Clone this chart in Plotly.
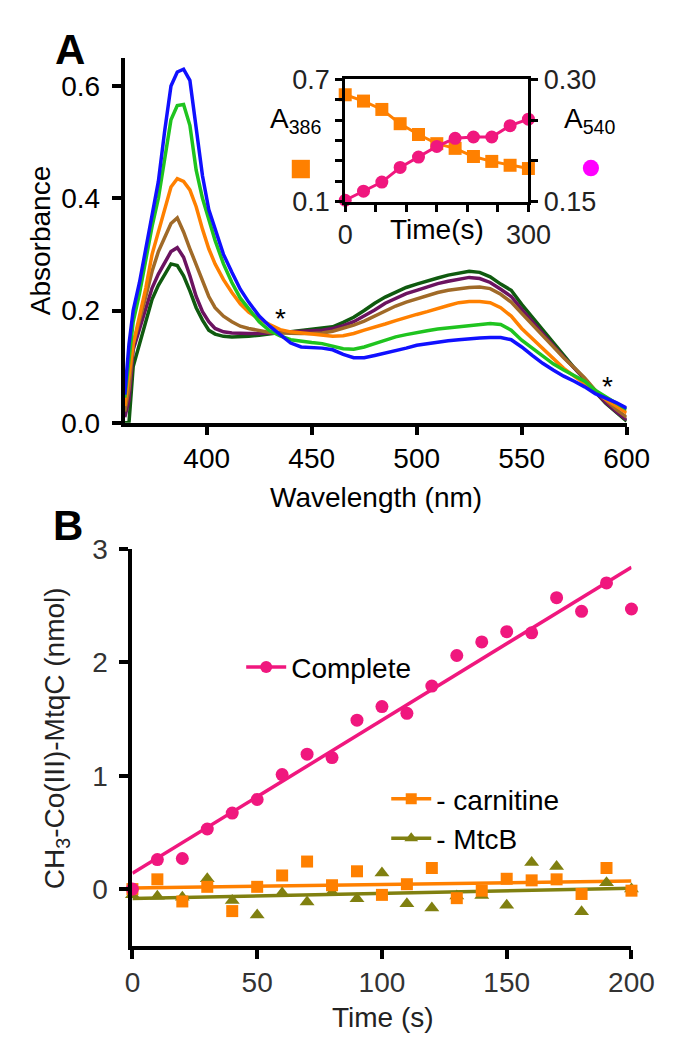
import numpy as np
import plotly.graph_objects as go

# ---------------- Panel A: spectra ----------------
wavelength = [361, 363, 365, 368, 371, 374, 377, 380, 383, 386, 389, 392, 395, 398, 401, 404, 408, 412, 416, 420,
              425, 430, 435, 440, 445, 450, 455, 460, 465, 470, 475, 480, 485, 490, 495, 500, 505, 510, 515, 520,
              525, 530, 535, 540, 545, 550, 555, 560, 565, 570, 575, 580, 585, 590, 595, 600]

abs_blue = [0.05, 0.14, 0.20, 0.25, 0.31, 0.37, 0.43, 0.52, 0.60, 0.625, 0.63, 0.61, 0.53, 0.44, 0.38, 0.345, 0.30, 0.268, 0.238, 0.215,
            0.19, 0.172, 0.156, 0.142, 0.135, 0.134, 0.133, 0.13, 0.122, 0.116, 0.116, 0.12, 0.124, 0.128, 0.133, 0.138, 0.141, 0.143, 0.146, 0.148,
            0.150, 0.151, 0.152, 0.152, 0.148, 0.135, 0.12, 0.106, 0.094, 0.083, 0.074, 0.064, 0.052, 0.044, 0.036, 0.026]
abs_green = [0.045, 0.12, 0.18, 0.23, 0.29, 0.35, 0.40, 0.47, 0.54, 0.565, 0.567, 0.53, 0.45, 0.40, 0.36, 0.325, 0.283, 0.25, 0.222, 0.203,
             0.18, 0.164, 0.155, 0.148, 0.145, 0.143, 0.141, 0.137, 0.132, 0.131, 0.135, 0.141, 0.147, 0.153, 0.157, 0.161, 0.164, 0.167, 0.169, 0.171,
             0.174, 0.176, 0.177, 0.175, 0.165, 0.147, 0.133, 0.118, 0.105, 0.094, 0.084, 0.074, 0.058, 0.046, 0.035, 0.024]
abs_orange = [0.03, 0.09, 0.14, 0.19, 0.24, 0.30, 0.34, 0.38, 0.42, 0.435, 0.43, 0.415, 0.385, 0.345, 0.31, 0.283, 0.255, 0.232, 0.212, 0.197,
              0.185, 0.175, 0.166, 0.162, 0.160, 0.158, 0.156, 0.154, 0.155, 0.159, 0.165, 0.170, 0.176, 0.182, 0.188, 0.193, 0.198, 0.204, 0.209, 0.214,
              0.216, 0.216, 0.214, 0.205, 0.190, 0.168, 0.150, 0.132, 0.114, 0.097, 0.083, 0.070, 0.056, 0.042, 0.030, 0.018]
abs_brown = [0.02, 0.06, 0.14, 0.18, 0.225, 0.27, 0.305, 0.33, 0.355, 0.365, 0.34, 0.31, 0.282, 0.25, 0.225, 0.205, 0.19, 0.18, 0.172, 0.168,
             0.164, 0.161, 0.160, 0.159, 0.159, 0.159, 0.160, 0.163, 0.168, 0.174, 0.181, 0.190, 0.199, 0.208, 0.215, 0.221, 0.227, 0.232, 0.236, 0.239,
             0.241, 0.242, 0.239, 0.229, 0.215, 0.195, 0.175, 0.155, 0.136, 0.116, 0.098, 0.080, 0.058, 0.040, 0.024, 0.010]
abs_purple = [0.01, 0.04, 0.13, 0.165, 0.205, 0.24, 0.265, 0.285, 0.305, 0.312, 0.295, 0.262, 0.225, 0.198, 0.18, 0.168, 0.162, 0.16, 0.159, 0.159,
              0.159, 0.160, 0.161, 0.162, 0.163, 0.164, 0.165, 0.168, 0.173, 0.180, 0.190, 0.201, 0.213, 0.222, 0.230, 0.236, 0.242, 0.248, 0.252, 0.256,
              0.259, 0.257, 0.250, 0.238, 0.225, 0.202, 0.180, 0.158, 0.138, 0.117, 0.097, 0.078, 0.055, 0.036, 0.020, 0.005]
abs_darkgreen = [0.0, 0.0, 0.10, 0.14, 0.185, 0.22, 0.245, 0.265, 0.283, 0.28, 0.262, 0.235, 0.205, 0.183, 0.165, 0.158, 0.154, 0.153, 0.153, 0.154,
                 0.156, 0.159, 0.161, 0.162, 0.164, 0.166, 0.168, 0.171, 0.179, 0.188, 0.200, 0.213, 0.224, 0.233, 0.241, 0.247, 0.253, 0.258, 0.263, 0.267,
                 0.270, 0.268, 0.260, 0.247, 0.236, 0.211, 0.188, 0.165, 0.142, 0.120, 0.098, 0.078, 0.055, 0.035, 0.018, 0.003]

spectra_colors = ["#0f5a0f", "#6b1360", "#a06a28", "#ff8000", "#1fc41f", "#1010ff"]

# ---------------- Inset ----------------
inset_time = [0, 30, 60, 90, 120, 150, 180, 210, 240, 270, 300]
a386 = [0.624, 0.593, 0.552, 0.482, 0.429, 0.384, 0.361, 0.321, 0.297, 0.278, 0.262]
a540 = [0.1516, 0.1627, 0.1739, 0.1918, 0.2045, 0.2176, 0.2276, 0.2292, 0.2292, 0.2431, 0.2511]

# ---------------- Panel B ----------------
time_b = [0, 10, 20, 30, 40, 50, 60, 70, 80, 90, 100, 110, 120, 130, 140, 150, 160, 170, 180, 190, 200]
complete = [0.0, 0.26, 0.27, 0.53, 0.67, 0.79, 1.01, 1.19, 1.16, 1.49, 1.61, 1.55, 1.79, 2.06, 2.18, 2.27, 2.26, 2.57, 2.45, 2.70, 2.47]
minus_carnitine = [0.0, 0.086, -0.109, 0.02, -0.194, 0.02, 0.12, 0.243, 0.034, 0.157, -0.051, 0.043, 0.186, -0.08, -0.014, 0.091, 0.077, 0.086, -0.043, 0.186, -0.014]
minus_mtcb = [-0.05, -0.063, -0.071, 0.091, -0.10, -0.229, -0.034, -0.114, -0.03, -0.086, 0.143, -0.129, -0.166, -0.06, -0.057, -0.143, 0.234, 0.20, -0.20, 0.057, 0.0]

PINK = "#f0177e"
ORANGE = "#ff8000"
OLIVE = "#808010"
FONT = "Liberation Sans"

W, H = 677, 1045
def px(x):
    return x / W
def py(y):
    return 1 - y / H

fig = go.Figure()

# spectra
for vals, col in zip([abs_darkgreen, abs_purple, abs_brown, abs_orange, abs_green, abs_blue], spectra_colors):
    fig.add_trace(go.Scatter(x=wavelength, y=vals, mode="lines", line=dict(color=col, width=3.5),
                             showlegend=False, xaxis="x", yaxis="y"))

# inset
fig.add_trace(go.Scatter(x=inset_time, y=a386, mode="lines+markers", line=dict(color=ORANGE, width=3),
                         marker=dict(symbol="square", size=13, color=ORANGE), cliponaxis=False,
                         showlegend=False, xaxis="x2", yaxis="y2"))
fig.add_trace(go.Scatter(x=inset_time, y=a540, mode="lines+markers", line=dict(color=PINK, width=3),
                         marker=dict(symbol="circle", size=13, color=PINK), cliponaxis=False,
                         showlegend=False, xaxis="x2", yaxis="y3"))

# panel B fits
tb = np.array(time_b, dtype=float)
tfit = np.array([0.0, 200.0])
for vals, col in [(minus_mtcb, OLIVE), (minus_carnitine, ORANGE), (complete, PINK)]:
    k, b = np.polyfit(tb, np.array(vals), 1)
    fig.add_trace(go.Scatter(x=tfit, y=k * tfit + b, mode="lines", line=dict(color=col, width=3.5),
                             showlegend=False, xaxis="x3", yaxis="y4"))

fig.add_trace(go.Scatter(x=time_b, y=minus_mtcb, mode="markers", marker=dict(symbol="triangle-up", size=13, color=OLIVE),
                         cliponaxis=False, showlegend=False, xaxis="x3", yaxis="y4"))
fig.add_trace(go.Scatter(x=time_b, y=minus_carnitine, mode="markers", marker=dict(symbol="square", size=12, color=ORANGE),
                         cliponaxis=False, showlegend=False, xaxis="x3", yaxis="y4"))
fig.add_trace(go.Scatter(x=time_b, y=complete, mode="markers", marker=dict(symbol="circle", size=13, color=PINK),
                         cliponaxis=False, showlegend=False, xaxis="x3", yaxis="y4"))

# legend entries
fig.add_trace(go.Scatter(x=[None], y=[None], mode="lines+markers", name="Complete",
                         line=dict(color=PINK, width=3.5), marker=dict(symbol="circle", size=12, color=PINK),
                         xaxis="x3", yaxis="y4", legend="legend"))
fig.add_trace(go.Scatter(x=[None], y=[None], mode="lines+markers", name="- carnitine",
                         line=dict(color=ORANGE, width=3.5), marker=dict(symbol="square", size=11, color=ORANGE),
                         xaxis="x3", yaxis="y4", legend="legend2"))
fig.add_trace(go.Scatter(x=[None], y=[None], mode="lines+markers", name="- MtcB",
                         line=dict(color=OLIVE, width=3.5), marker=dict(symbol="triangle-up", size=12, color=OLIVE),
                         xaxis="x3", yaxis="y4", legend="legend2"))

axis_common = dict(showgrid=False, zeroline=False, showline=True, linecolor="black", ticks="outside", tickcolor="black")

fig.update_layout(
    width=W, height=H, margin=dict(l=0, r=0, t=0, b=0),
    paper_bgcolor="white", plot_bgcolor="white",
    font=dict(family=FONT, size=28, color="black"),
    xaxis=dict(**axis_common, domain=[px(114), px(640)], range=[361, 600], anchor="y",
               tickvals=[400, 450, 500, 550, 600], linewidth=4, tickwidth=4, ticklen=8,
               tickfont=dict(size=28, color="black")),
    yaxis=dict(**axis_common, domain=[py(412), py(36)], range=[0, 0.65], anchor="x",
               tickvals=[0, 0.2, 0.4, 0.6], tickformat=".1f", linewidth=4, tickwidth=4, ticklen=9,
               ticklabelstandoff=6, tickfont=dict(size=28, color="black")),
    xaxis2=dict(**axis_common, domain=[px(345), px(537)], range=[0, 300], anchor="y2", mirror=True,
                tickvals=[0, 300], linewidth=3, tickwidth=3, ticklen=7, tickfont=dict(size=27, color="#222"),
                minor=dict(tickvals=[50, 100, 150, 200, 250], ticks="outside", ticklen=7, tickwidth=3,
                           tickcolor="black", showgrid=False)),
    yaxis2=dict(**axis_common, domain=[py(184), py(58)], range=[0.1, 0.7], anchor="x2",
                tickvals=[0.1, 0.7], linewidth=3, tickwidth=3, ticklen=7, tickfont=dict(size=27, color="#222"),
                minor=dict(tickvals=[0.2, 0.3, 0.4, 0.5, 0.6], ticks="outside", ticklen=7, tickwidth=3,
                           tickcolor="black", showgrid=False)),
    yaxis3=dict(**axis_common, range=[0.15, 0.30], overlaying="y2", side="right", anchor="x2",
                tickvals=[0.15, 0.30], tickformat=".2f", linewidth=3, tickwidth=3, ticklen=7,
                tickfont=dict(size=27, color="#222"),
                minor=dict(tickvals=[0.20, 0.25], ticks="outside", ticklen=7, tickwidth=3,
                           tickcolor="black", showgrid=False)),
    xaxis3=dict(**axis_common, domain=[px(122), px(645)], range=[0, 200], anchor="y4",
                tickvals=[0, 50, 100, 150, 200], linewidth=4, tickwidth=4, ticklen=9,
                tickfont=dict(size=28, color="#333")),
    yaxis4=dict(**axis_common, domain=[py(951), py(542)], range=[-0.5, 3], anchor="x3",
                tickvals=[0, 1, 2, 3], linewidth=4, tickwidth=4, ticklen=9, ticklabelstandoff=6,
                tickfont=dict(size=28, color="#333")),
    legend=dict(x=px(236), y=py(664), xanchor="left", yanchor="middle", bgcolor="rgba(0,0,0,0)",
                font=dict(size=28, color="black"), itemwidth=40),
    legend2=dict(x=px(388), y=py(820), xanchor="left", yanchor="middle", bgcolor="rgba(0,0,0,0)",
                 font=dict(size=28, color="black"), itemwidth=40, tracegroupgap=0),
)

def ann(text, x, y, size=28, color="black", angle=0, bold=False):
    if bold:
        text = "<b>" + text + "</b>"
    fig.add_annotation(text=text, x=px(x), y=py(y), xref="paper", yref="paper", showarrow=False,
                       xanchor="center", yanchor="middle", textangle=angle,
                       font=dict(family=FONT, size=size, color=color))

ann("A", 57, 27, size=42, bold=True)
ann("B", 55, 518, size=42, bold=True)
ann("Absorbance", 25, 224, angle=-90)
ann("Wavelength (nm)", 377, 489)
ann("*", 277, 305, size=28)
ann("*", 620, 375, size=28)
ann("A<sub>386</sub>", 293, 100, size=28)
ann("A<sub>540</sub>", 601, 100, size=28)
ann("Time(s)", 441, 213, size=28)
ann("CH<sub>3</sub>-Co(III)-MtqC (nmol)", 42, 737, angle=-90, color="#222")
ann("Time (s)", 385, 1025, color="#222")

# inset legend symbols
fig.add_shape(type="rect", xref="paper", yref="paper", x0=px(289), x1=px(308), y0=py(160), y1=py(141),
              fillcolor=ORANGE, line=dict(width=0))
fig.add_shape(type="circle", xref="paper", yref="paper", x0=px(594), x1=px(611), y0=py(158), y1=py(141),
              fillcolor="#ff00ff", line=dict(width=0))

fig.write_html("out.html")
